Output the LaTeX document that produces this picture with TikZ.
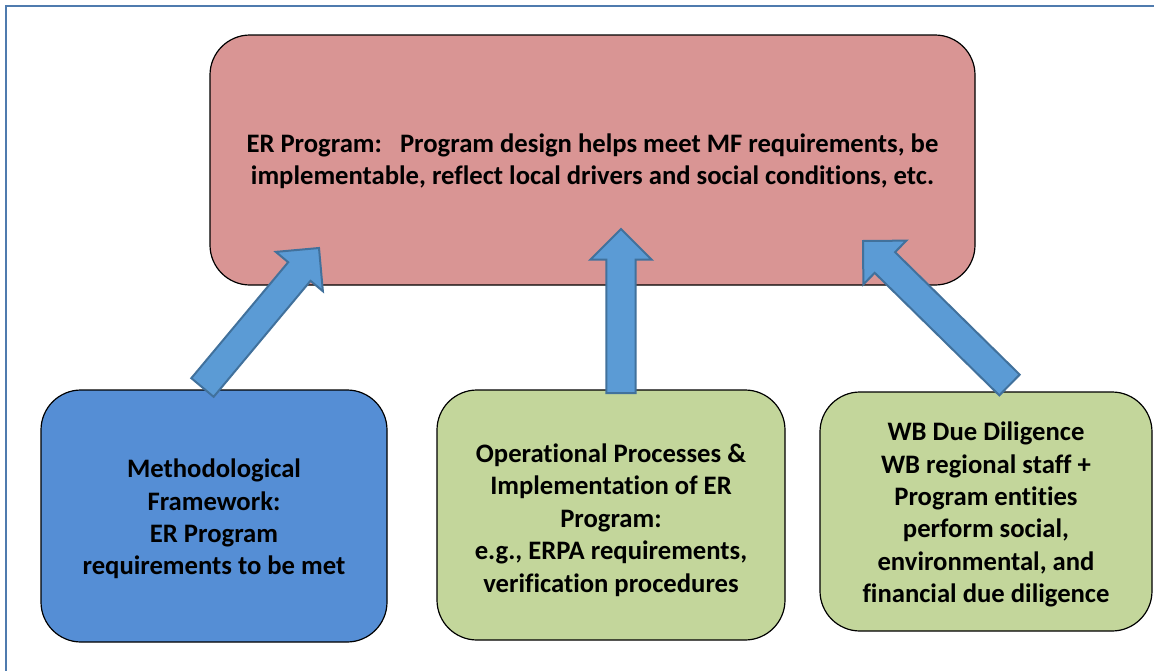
\documentclass[tikz,border=0pt]{standalone}
\usepackage{fontspec}
\setmainfont{Carlito}[Ligatures=NoCommon]
\usetikzlibrary{calc}
\definecolor{erfill}{HTML}{D99594}
\definecolor{mffill}{HTML}{558ED5}
\definecolor{grfill}{HTML}{C3D69B}
\definecolor{arfill}{HTML}{5B9BD5}
\definecolor{arline}{HTML}{41719C}
\definecolor{frameblue}{HTML}{4F7BAE}
\newcommand{\blockarrow}[2]{%
  \coordinate (hb) at ($(#2)!23pt!(#1)$);
  \draw[barrow] ($(#1)!10.9pt!90:(#2)$) -- ($(hb)!10.9pt!90:(#2)$) -- ($(hb)!23pt!90:(#2)$) -- (#2)
    -- ($(hb)!23pt!-90:(#2)$) -- ($(hb)!10.9pt!-90:(#2)$) -- ($(#1)!10.9pt!-90:(#2)$) -- cycle;
}
\begin{document}
\begin{tikzpicture}[x=0.75pt,y=-0.75pt,
  box/.style={draw=black, line width=0.9pt, rounded corners=30pt, inner sep=0pt},
  boxtext/.style={align=center, font=\bfseries\fontsize{20}{24.3}\selectfont, inner sep=0pt},
  barrow/.style={fill=arfill, draw=arline, line width=1.5pt, line join=miter},
  frameline/.style={draw=frameblue, line width=2pt}]
\useasboundingbox (0,0) rectangle (1154,671);
\fill[white] (0,0) rectangle (1154,671);
\draw[frameline] (6,671) -- (6,6) -- (1154,6);

\node[box, fill=erfill, minimum width={765*0.75pt}, minimum height={250*0.75pt}] (er) at (592.5,160) {};
\node[boxtext] (ertext) at ($(er.center)+(0,1)$)
  {ER Program:\ \ \ Program design helps meet MF requirements, be\\implementable, reflect local drivers and social conditions, etc.};
\node[box, fill=mffill, minimum width={346*0.75pt}, minimum height={252*0.75pt}] (mf) at (214,516) {};
\node[boxtext] (mftext) at ($(mf.center)+(0,3)$)
  {Methodological\\Framework:\\ER Program\\requirements to be met};
\node[box, fill=grfill, minimum width={348*0.75pt}, minimum height={250*0.75pt}] (op) at (611,515) {};
\node[boxtext] (optext) at ($(op.center)+(0,5)$)
  {Operational Processes \&\\Implementation of ER\\Program:\\e.g., ERPA requirements,\\verification procedures};
\node[box, fill=grfill, minimum width={332*0.75pt}, minimum height={239*0.75pt}] (wb) at (986,511.5) {};
\node[boxtext] (wbtext) at ($(wb.center)+(0,3)$)
  {WB Due Diligence\\WB regional staff +\\Program entities\\perform social,\\environmental, and\\financial due diligence};

\coordinate (t1) at (202.5,387.5);
\coordinate (p1) at (319,248);
\coordinate (t2) at (621,393);
\coordinate (p2) at (621,229);
\coordinate (t3) at (1009.5,385);
\coordinate (p3) at (863,241);
\blockarrow{t1}{p1}
\blockarrow{t2}{p2}
\blockarrow{t3}{p3}
\end{tikzpicture}
\end{document}
